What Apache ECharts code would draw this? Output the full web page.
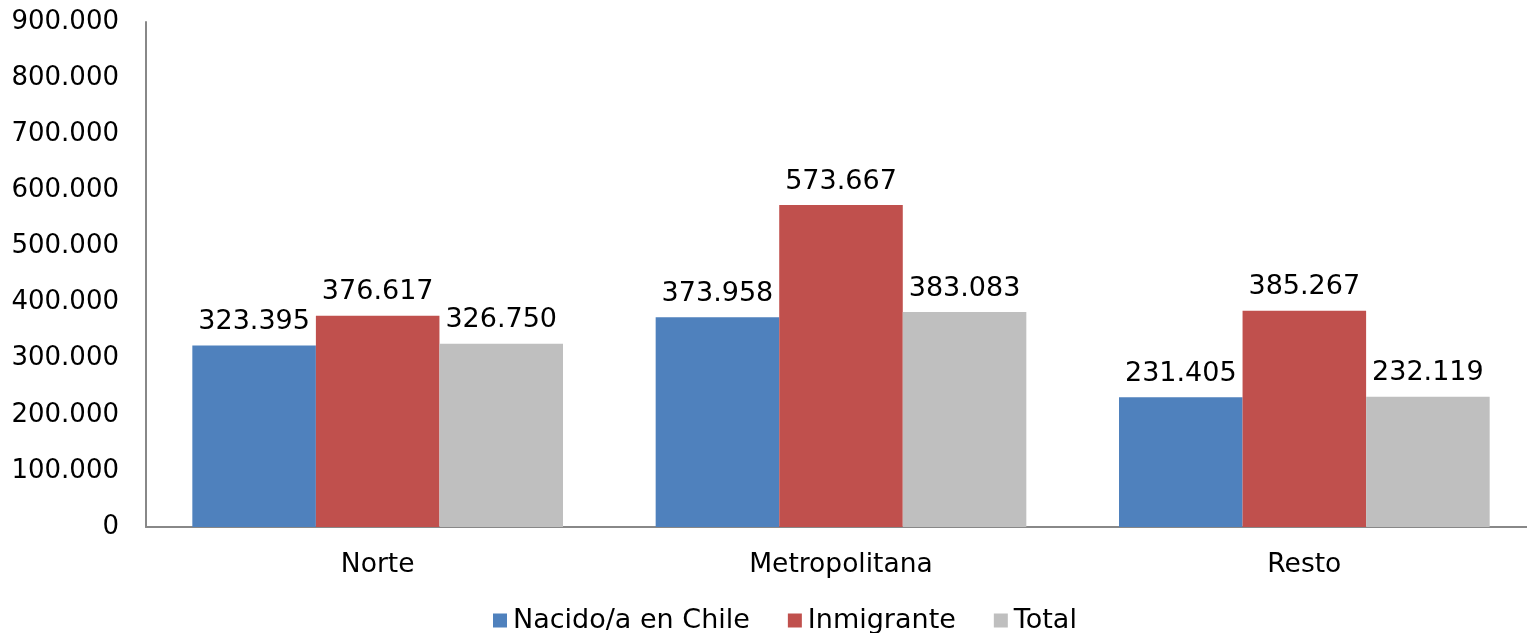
<!DOCTYPE html>
<html><head><meta charset="utf-8">
<script src="https://cdn.jsdelivr.net/npm/echarts@6/dist/echarts.min.js"></script>
<style>html,body{margin:0;padding:0;background:#fff}#c{width:1527px;height:633px}</style>
</head><body><div id="c"></div>
<script>
const categories = ['Norte', 'Metropolitana', 'Resto'];
const seriesNames = ['Nacido/a en Chile', 'Inmigrante', 'Total'];
const nacido = [323395, 373958, 231405];
const inmigrante = [376617, 573667, 385267];
const total = [326750, 383083, 232119];
const colors = ['#4f81bd', '#c0504d', '#bfbfbf'];

const fmt = v => v === 0 ? '0' : Math.round(v).toString().replace(/\B(?=(\d{3})+(?!\d))/g, '.');
const FONT = 'DejaVu Sans';

const chart = echarts.init(document.getElementById('c'));
const mk = (name, data, color) => ({
  name, type: 'bar', data, barGap: '0%', barCategoryGap: '20%',
  itemStyle: { color },
  label: { show: true, position: 'top', distance: 10, color: '#000', fontSize: 27, fontFamily: FONT, formatter: p => fmt(p.value) }
});
chart.setOption({
  animation: false,
  textStyle: { fontFamily: FONT },
  grid: { left: 146, width: 1390, top: 22, bottom: 106, containLabel: false, outerBoundsMode: 'none' },
  legend: {
    bottom: -6, left: 488, itemWidth: 14, itemHeight: 14, itemGap: 38,
    icon: 'rect', textStyle: { fontSize: 27, color: '#000', fontFamily: FONT, padding: [0, 0, 0, 1] },
    data: seriesNames
  },
  xAxis: {
    type: 'category', data: categories,
    axisLine: { lineStyle: { color: '#888', width: 2 } }, axisTick: { show: false },
    axisLabel: { color: '#000', fontSize: 26.5, fontFamily: FONT, margin: 25 }
  },
  yAxis: {
    type: 'value', min: 0, max: 900000, interval: 100000,
    axisLine: { show: true, lineStyle: { color: '#888', width: 2 } }, axisTick: { show: false },
    splitLine: { show: false },
    axisLabel: { color: '#000', fontSize: 26, fontFamily: FONT, margin: 27, formatter: fmt }
  },
  series: [mk(seriesNames[0], nacido, colors[0]), mk(seriesNames[1], inmigrante, colors[1]), mk(seriesNames[2], total, colors[2])]
});
</script></body></html>
